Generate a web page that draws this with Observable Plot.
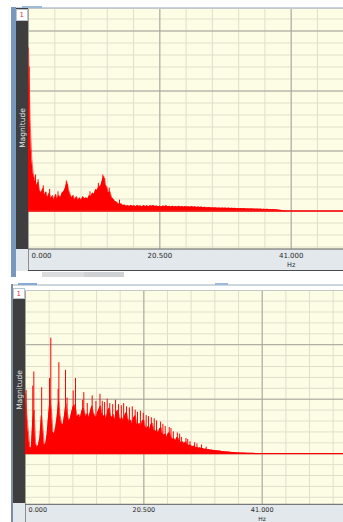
<!DOCTYPE html>
<html><head><meta charset="utf-8">
<script src="https://cdn.jsdelivr.net/npm/d3@7"></script>
<script src="https://cdn.jsdelivr.net/npm/@observablehq/plot@0.6"></script>
<style>
html,body{margin:0;padding:0;background:#fff}
body{width:343px;height:522px;overflow:hidden;position:relative;font-family:"DejaVu Sans",sans-serif}
.a{position:absolute}
.one{background:#fff;color:#e0303a;font-size:7px;line-height:10px;text-align:center;box-sizing:border-box;border:1px solid #b9c4d0}
.mag{color:#e6e6e6;font-size:7.5px;white-space:nowrap;transform:translate(-50%,-50%) rotate(-90deg);transform-origin:center}
svg{position:absolute;overflow:visible}
</style></head><body>
<script>
// frequency step of the spectrum lists (Hz)
const STEP = 0.25;

// ---- top panel: magnitude, 0 … 40 Hz every 0.25 Hz (grid units, 0 = red base line)
const topMag = [
13.6,7.6,4.4,3.1,2.6,2.1,2.4,1.7,1.5,1.9, 1.3,1.6,1.1,1.5,1.0,1.3,0.9,1.4,1.0,1.3,
1.1,1.5,1.6,1.9,2.4,1.8,1.4,1.1,1.3,0.9, 1.2,0.9,1.1,0.9,1.2,1.0,1.1,1.0,1.3,1.2,
1.5,1.4,1.8,1.7,2.1,2.0,2.5,2.9,2.2,2.0, 1.5,1.6,1.1,1.0,0.8,0.75,0.6,0.55,0.6,0.45,
0.5,0.4,0.45,0.38,0.48,0.4,0.44,0.36,0.46,0.4, 0.42,0.35,0.45,0.38,0.43,0.36,0.44,0.4,0.46,0.37,
0.42,0.36,0.4,0.34,0.41,0.37,0.43,0.35,0.4,0.34, 0.39,0.33,0.38,0.34,0.4,0.33,0.37,0.32,0.38,0.33,
0.36,0.31,0.37,0.32,0.35,0.3,0.34,0.3,0.33,0.28, 0.32,0.28,0.27,0.3,0.25,0.28,0.24,0.27,0.23,0.26,
0.22,0.25,0.22,0.25,0.21,0.24,0.2,0.23,0.2,0.22, 0.19,0.21,0.18,0.21,0.18,0.2,0.17,0.19,0.16,0.18,
0.16,0.17,0.15,0.17,0.14,0.16,0.13,0.15,0.13,0.14, 0.12,0.13,0.11,0.12,0.1,0.1,0.08,0.06,0.05,0.03,
0
];
const topSpikeHz  = [0.1, 1.1, 1.5, 2.3, 3.3, 4.6, 5.9, 6.1, 9.6, 10.9, 11.6, 11.9, 12.6, 14.2];
const topSpikeMag = [12.0, 3.0, 2.6, 2.1, 1.8, 1.6, 2.5, 2.2, 1.6, 2.3, 3.0, 2.7, 1.9, 0.9];

// ---- bottom panel
const bottomMag = [
5.5,3.5,2.0,0.6,0.5,3.0,4.0,1.0,0.6,0.8, 1.5,3.5,2.5,0.8,0.9,1.8,3.5,5.0,4.0,2.0,
1.8,2.5,3.5,4.8,3.5,2.8,2.6,3.5,4.6,3.8, 3.0,3.2,3.8,4.3,4.5,4.0,3.4,3.6,3.3,3.9,
4.2,3.8,3.4,3.7,3.3,3.9,4.4,3.8,3.5,3.3, 3.8,4.1,4.4,3.7,3.4,3.6,3.2,3.9,4.2,3.5,
3.3,3.6,3.1,3.8,4.0,3.4,3.1,3.3,3.0,3.6, 3.8,3.2,2.9,3.1,2.7,3.3,3.5,2.8,2.6,2.8,
2.5,3.0,3.1,2.5,2.3,2.5,2.2,2.7,2.8,2.2, 2.0,2.2,1.9,2.3,2.4,1.8,1.7,1.8,1.5,1.9,
1.9,1.5,1.3,1.4,1.2,1.5,1.4,1.1,1.0,1.1, 0.9,1.1,0.9,0.75,0.8,0.7,0.65,0.7,0.55,0.6,
0.5,0.55,0.45,0.48,0.4,0.42,0.36,0.38,0.33,0.35, 0.3,0.3,0.26,0.28,0.24,0.24,0.2,0.21,0.18,0.18,
0.15,0.15,0.13,0.12,0.1,0.1,0.09,0.08,0.08,0.07, 0.07,0.06,0.06,0.05,0.05,0.04,0.04,0.03,0.03,0.02,
0
];
const bottomSpikeHz  = [0.1,1.26,1.44,2.8,4.16,4.38,5.65,5.78,6.93,7.2,8.26,8.66,9.9,10.1,10.7,11.55,12.2,12.9,13.3,13.7,14.15,14.6,15.1,15.6,16.1,16.6,17.0,17.5,18.0,18.5,19.0,19.4,19.9,20.4,20.9,21.3,21.8,22.3,22.7,23.4,23.8,24.2,24.9,25.2,25.6,26.3,26.7,27.0,27.8,28.1,28.5,29.3,29.7,30.5,31.3];
const bottomSpikeMag = [5.8,6.2,7.5,6.05,6.9,10.6,5.9,8.35,7.65,5.1,5.75,6.9,4.9,5.6,4.6,5.3,4.8,5.45,4.8,4.7,5.0,4.6,4.5,4.9,4.5,4.4,4.6,4.3,4.2,4.3,4.0,3.8,3.9,3.7,3.5,3.4,3.3,3.2,3.0,2.9,2.7,2.5,2.4,2.3,2.0,1.9,1.8,1.5,1.4,1.3,1.1,1.0,0.9,0.8,0.6];

// axis ticks
const xTicks = [0, 20.5, 41];
const xGridStep = 4.1;
const unitLabel = "Hz";
const sideLabel = "Magnitude";

const RED = "#ff0000";

function panel(o) {
  const data = o.mag.map((v, i) => ({f: i * STEP, v}));
  const spikes = o.spikeHz.map((f, i) => ({f, v: o.spikeMag[i]}));
  const xMinor = d3.range(0, o.xmax, xGridStep);
  const yMinor = d3.range(Math.ceil(o.ymin), o.ymax, 1);
  const yMajor = yMinor.filter(d => d % 5 === 0);
  const fmt = d3.format(".3f");
  const axisStyle = {tickSize: 0, tickPadding: o.pad, tickFormat: fmt, fontSize: o.fs, fill: "#2a2a2a", label: null};
  const svg = Plot.plot({
    width: o.width, height: o.plotH + o.axisH,
    marginTop: 0, marginRight: 0, marginLeft: 0, marginBottom: o.axisH,
    x: {domain: [0, o.xmax], label: null},
    y: {domain: [o.ymin, o.ymax], axis: null, label: null},
    style: {background: "transparent", fontFamily: "DejaVu Sans", overflow: "visible"},
    marks: [
      Plot.frame({fill: "#fdfde6", stroke: null}),
      Plot.ruleX(xMinor, {stroke: "#dfdfcc"}),
      Plot.ruleY(yMinor, {stroke: "#dfdfcc"}),
      Plot.ruleX(xTicks, {stroke: "#a5a59c"}),
      Plot.ruleY(yMajor, {stroke: "#a5a59c"}),
      Plot.ruleY([o.ymax], {stroke: "#c4c8c8"}),
      Plot.areaY(data, {x: "f", y: "v", fill: RED, curve: "linear"}),
      Plot.lineY(data, {x: "f", y: "v", stroke: RED, strokeWidth: 0.6}),
      Plot.ruleX(spikes, {x: "f", y1: 0, y2: "v", stroke: RED, strokeWidth: 1}),
      Plot.ruleY([0], {stroke: RED, strokeWidth: 1.3}),
      Plot.ruleY([o.ymin], {stroke: "#5a5a5a"}),
      Plot.axisX(xTicks.slice(0, 1), {...axisStyle, textAnchor: "start", dx: 3}),
      Plot.axisX(xTicks.slice(1), axisStyle),
      Plot.text([xTicks[2]], {x: d => d, text: () => unitLabel, frameAnchor: "bottom", lineAnchor: "top", dy: o.hzDy, fontSize: o.fs - 0.5, fill: "#2a2a2a"})
    ]
  });
  svg.style.left = o.left + "px";
  svg.style.top = o.top + "px";
  return svg;
}

function box(l, t, w, h, bg, cls) {
  const d = document.createElement("div");
  d.className = "a" + (cls ? " " + cls : "");
  Object.assign(d.style, {left: l + "px", top: t + "px", width: w + "px", height: h + "px"});
  if (bg) d.style.background = bg;
  document.body.appendChild(d);
  return d;
}
function label(txt, cx, cy, cls) {
  const d = document.createElement("div");
  d.className = "a " + cls;
  d.textContent = txt;
  Object.assign(d.style, {left: cx + "px", top: cy + "px"});
  document.body.appendChild(d);
}

// ---------- top panel chrome
box(11, 7, 332, 1, "#c8d2dc");
box(22, 6, 20, 2, "#9fb9d8");
box(11, 7, 4.5, 270, "#7898c0");
box(15.5, 8, 12.5, 241, "#3e3e3e");
box(15.5, 248.5, 327.5, 22, "#e2e8ec");
box(28, 248.5, 1, 22, "#8a8f94");
box(28, 270, 315, 1, "#4a4a4a");
box(42, 272, 82, 5, "#cfd2d5");
box(42, 272, 42, 5, "#dadcde");
const t1 = box(15.5, 8.5, 12.5, 12.5, null, "one"); t1.textContent = "1";
label(sideLabel, 21.8, 128, "mag");

document.body.appendChild(panel({
  left: 28, top: 8, width: 315, plotH: 240.5, axisH: 22,
  xmax: 315 / 6.407, ymin: -38 / 12, ymax: 202.5 / 12,
  mag: topMag, spikeHz: topSpikeHz, spikeMag: topSpikeMag,
  fs: 7, pad: 4, hzDy: 13.5
}));

// ---------- bottom panel chrome
box(11, 284, 332, 1.5, "#cdd5dd");
box(18, 283, 19, 2, "#86a9d6");
box(215, 283, 13, 2, "#9fb9d8");
box(11, 284, 1.5, 238, "#7a8ea6");
box(12.5, 288, 12.5, 215.5, "#3e3e3e");
box(12.5, 503.3, 330.5, 19, "#e2e8ec");
box(25, 503.3, 1, 19, "#8a8f94");
const t2 = box(13, 288, 11.5, 11, null, "one"); t2.textContent = "1";
label(sideLabel, 19.2, 390, "mag");

document.body.appendChild(panel({
  left: 25, top: 289.5, width: 318, plotH: 213.8, axisH: 19,
  xmax: 318 / 5.773, ymin: -50.6 / 10.9, ymax: 163.2 / 10.9,
  mag: bottomMag, spikeHz: bottomSpikeHz, spikeMag: bottomSpikeMag,
  fs: 6.5, pad: 3.5, hzDy: 12
}));
</script>
</body></html>
